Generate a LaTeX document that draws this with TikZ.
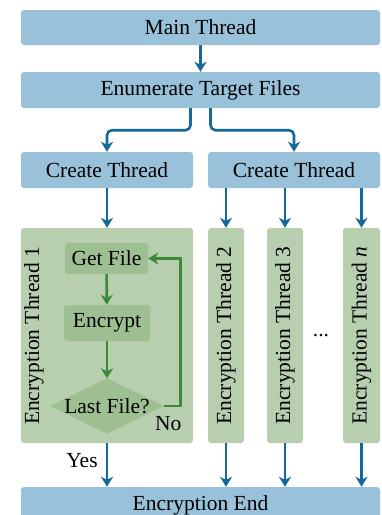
\documentclass[tikz,border=0pt]{standalone}
\usepackage{fontspec}
\setmainfont{Liberation Serif}
\usetikzlibrary{arrows.meta,calc}
\definecolor{boxblue}{HTML}{9AC1DA}
\definecolor{arrblue}{HTML}{14699A}
\definecolor{boxgreen}{HTML}{B7CFAF}
\definecolor{stepgreen}{HTML}{9EBF92}
\definecolor{arrgreen}{HTML}{3C8A38}
\newcommand{\labelfont}{\rmfamily\fontsize{21.5}{25}\selectfont}
\tikzset{
  bluebox/.style={fill=boxblue, rounded corners=3pt, inner sep=0pt, font=\labelfont},
  greenbox/.style={fill=boxgreen, rounded corners=3pt, inner sep=0pt},
  stepbox/.style={fill=stepgreen, rounded corners=3pt, inner sep=0pt, font=\labelfont},
  decision/.style={inner sep=0pt, font=\labelfont},
  vlabel/.style={rotate=90, font=\labelfont},
  lbl/.style={font=\labelfont, inner sep=0pt},
  barrow/.style={draw=arrblue, line width=2.6pt, -{Stealth[length=10pt,width=12pt,inset=3pt]}},
  garrow/.style={draw=arrgreen, line width=2.6pt, -{Stealth[length=10pt,width=12pt,inset=3pt]}},
}
\begin{document}
\begin{tikzpicture}[x=1pt,y=-1pt]
\useasboundingbox (0,0) rectangle (381,515);
% top-level stages
\node[bluebox, minimum width=359pt, minimum height=35pt] (main) at (200.5,27.5) {Main Thread};
\node[bluebox, minimum width=359pt, minimum height=36pt] (enum) at (200.5,90) {Enumerate Target Files};
\node[bluebox, minimum width=172pt, minimum height=36pt] (cl) at (107,170) {Create Thread};
\node[bluebox, minimum width=172pt, minimum height=36pt] (cr) at (294,170) {Create Thread};
\node[bluebox, minimum width=359pt, minimum height=36pt] (done) at (200.5,505) {Encryption End};
% worker threads
\node[greenbox, minimum width=172pt, minimum height=215pt] (t1) at (107,335.5) {};
\node[vlabel] (t1lbl) at (34,336) {Encryption Thread 1};
\node[greenbox, minimum width=36pt, minimum height=215pt] (t2) at (226,335.5) {};
\node[vlabel] (t2lbl) at (226,335.5) {Encryption Thread 2};
\node[greenbox, minimum width=36pt, minimum height=215pt] (t3) at (285,335.5) {};
\node[vlabel] (t3lbl) at (285,335.5) {Encryption Thread 3};
\node[greenbox, minimum width=37pt, minimum height=215pt] (tn) at (361.5,335.5) {};
\node[vlabel] (tnlbl) at (361.5,335.5) {Encryption Thread \textit{n}};
\node[lbl, anchor=base] (dots) at (321,336) {...};
% steps inside thread 1
\node[stepbox, minimum width=83pt, minimum height=31pt] (gf) at (106.5,258.5) {Get File};
\node[stepbox, minimum width=86pt, minimum height=36pt] (enc) at (107,323) {Encrypt};
\node[decision, minimum width=113pt, minimum height=55pt] (last) at (107,406) {};
\fill[stepgreen] (last.west) -- (last.north) -- (last.east) -- (last.south) -- cycle;
\node[lbl] (lastlbl) at (last) {Last File?};
\node[lbl, anchor=west] (no) at (155,424) {No};
\node[lbl] (yes) at (82,461) {Yes};
% connectors
\draw[barrow] (main) -- (enum);
\draw[barrow, rounded corners=5pt] ([xshift=-10pt]enum.south) -- ++(0,22) -| (cl.north);
\draw[barrow, rounded corners=5pt] ([xshift=10pt]enum.south) -- ++(0,22) -| (cr.north);
\draw[barrow] (cl) -- (t1);
\draw[barrow] (cr.south -| t2) -- (t2.north);
\draw[barrow] (cr.south -| t3) -- (t3.north);
\draw[barrow] (cr.south -| tn) -- (tn.north);
\draw[garrow] (gf) -- (enc);
\draw[garrow] (enc) -- (last.north);
\draw[garrow] (last.east) -- ++(17,0) |- (gf.east);
\draw[barrow] (t1.south) -- (t1.south |- done.north);
\draw[barrow] (t2.south) -- (t2.south |- done.north);
\draw[barrow] (t3.south) -- (t3.south |- done.north);
\draw[barrow] (tn.south) -- (tn.south |- done.north);
\end{tikzpicture}
\end{document}
